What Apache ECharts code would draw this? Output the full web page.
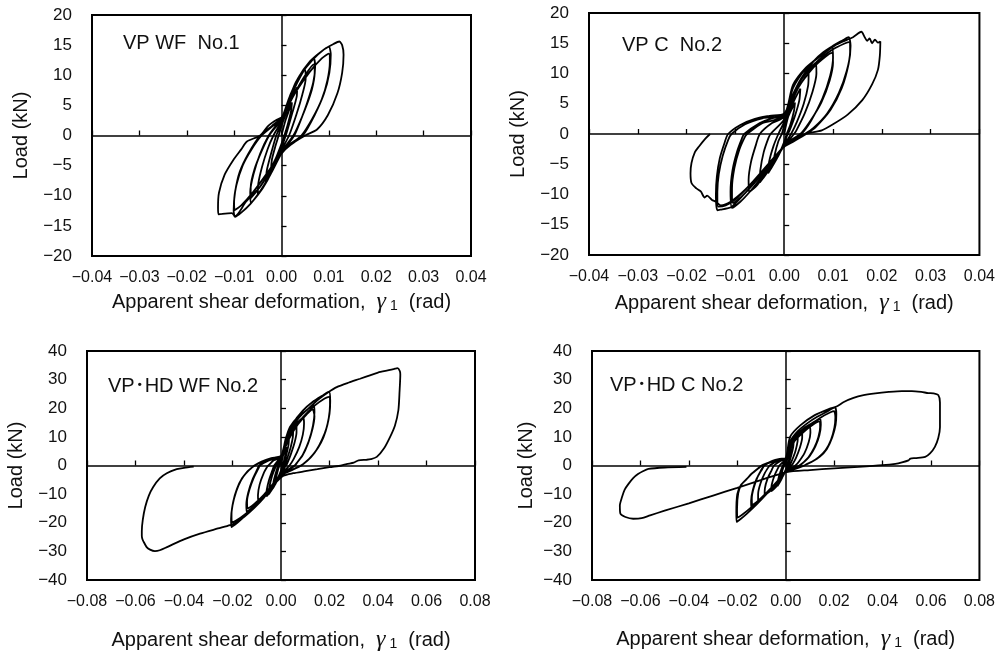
<!DOCTYPE html>
<html>
<head>
<meta charset="utf-8">
<script src="https://cdn.jsdelivr.net/npm/echarts@6/dist/echarts.min.js"></script>
<style>
  html, body { margin: 0; padding: 0; background: #fff; }
  #main { width: 998px; height: 654px; }
</style>
</head>
<body>
<div id="main"></div>
<script>
// panel titles
const titles = ["VP WF  No.1", "VP C  No.2", "VP\uFF65HD WF No.2", "VP\uFF65HD C No.2"];

// axis ranges / ticks
const xTicks1 = [-0.04, 0.04, 0.01];
const yTicks1 = [-20, 20, 5];
const xTicks2 = [-0.08, 0.08, 0.02];
const yTicks2 = [-40, 40, 10];

// VP WF No.1  [shear deformation (rad), load (kN)]
const wf1 = [
  [0,0],[0.0008,2.4],[0.0016,4.2],[0.0022,5.5],[0.0020,4.0],[0.0013,1.8],[0.0006,0],[0,-1.4],[-0.0010,-3.4],[-0.0022,-5.4],[-0.0020,-3.9],[-0.0013,-1.8],[-0.0006,0],[0,1.6],
  [0.0010,3.8],[0.0022,6.2],[0.0033,8.0],[0.0032,6.4],[0.0023,3.8],[0.0011,0.5],[0,-2.0],[-0.0012,-4.2],[-0.0024,-6.2],[-0.0033,-7.6],[-0.0031,-5.8],[-0.0022,-3.0],[-0.0011,0],[0,2.0],
  [0.0012,4.8],[0.0028,7.9],[0.0040,9.8],[0.0050,11.0],[0.0051,9.4],[0.0044,6.8],[0.0032,3.6],[0.0016,0],[0,-2.4],[-0.0015,-5.0],[-0.0030,-7.5],[-0.0042,-9.0],[-0.0050,-9.8],[-0.0049,-8.0],[-0.0041,-5.2],[-0.0029,-2.2],[-0.0017,0],[0,2.4],
  [0.0013,5.4],[0.0030,8.8],[0.0050,11.3],[0.0068,12.8],[0.0071,11.4],[0.0067,8.8],[0.0054,5.4],[0.0038,2.0],[0.0027,0],[0.0010,-1.8],[0,-2.8],[-0.0015,-5.0],[-0.0035,-8.0],[-0.0052,-10.0],[-0.0065,-11.2],[-0.0066,-9.4],[-0.0059,-6.4],[-0.0045,-3.0],[-0.0027,0],[-0.0012,1.6],[0,2.7],
  [0.0025,6.6],[0.0050,10.0],[0.0068,11.8],[0.0070,10.4],[0.0064,7.6],[0.0050,4.4],[0.0034,1.4],[0.0025,0],[0.0008,-1.8],[0,-2.6],[-0.0025,-6.0],[-0.0050,-9.0],[-0.0065,-10.4],[-0.0065,-8.6],[-0.0057,-5.6],[-0.0042,-2.6],[-0.0026,0],[-0.0010,1.6],[0,2.6],
  [0.0015,6.0],[0.0035,9.5],[0.0060,12.3],[0.0085,14.0],[0.0100,14.7],[0.0104,13.4],[0.0101,10.4],[0.0090,7.0],[0.0070,3.4],[0.0045,0],[0.0015,-1.8],[0,-3.0],[-0.0020,-6.0],[-0.0040,-8.8],[-0.0065,-11.3],[-0.0085,-12.8],[-0.0098,-13.5],[-0.0101,-12.4],[-0.0098,-9.4],[-0.0088,-6.0],[-0.0070,-3.0],[-0.0045,0],[-0.0020,1.6],[0,3.0],
  [0.0030,7.2],[0.0060,10.6],[0.0085,12.8],[0.0100,13.6],[0.0102,12.2],[0.0097,9.2],[0.0085,6.0],[0.0065,2.8],[0.0042,0],[0.0015,-1.6],[0,-2.8],[-0.0030,-6.2],[-0.0060,-9.4],[-0.0085,-11.6],[-0.0099,-12.4],[-0.0100,-11.0],[-0.0095,-8.2],[-0.0082,-5.0],[-0.0064,-2.4],[-0.0042,0],[-0.0018,1.6],[0,2.8],
  [0.0020,7.0],[0.0040,10.0],[0.0065,12.5],[0.0090,14.3],[0.0110,15.2],[0.0122,15.6],[0.0128,15.0],[0.0131,13.4],[0.0128,10.4],[0.0118,7.0],[0.0098,3.4],[0.0075,1.0],[0.0050,0],[0.0020,-1.5],[0,-3.0],[-0.0020,-5.5],[-0.0045,-8.5],[-0.0075,-11.0],[-0.0098,-13.4],[-0.0105,-12.9],[-0.0125,-13.0],[-0.0133,-13.1],[-0.0134,-12.0],[-0.0132,-9.5],[-0.0120,-6.5],[-0.0102,-4.1],[-0.0085,-2.3],[-0.0073,-1.0],[-0.0045,0],[-0.0028,1.6],[-0.0010,2.6],[0.0005,3.2]
];

// VP C No.2
const c2 = [
  [0,0],[0.0008,2.8],[0.0016,4.2],[0.0022,5.2],[0.0020,3.8],[0.0012,1.4],[0.0005,0],[0,-1.3],[-0.0010,-3.2],[-0.0022,-5.0],[-0.0020,-3.6],[-0.0012,-1.2],[-0.0005,0],[0,1.4],
  [0.0010,3.6],[0.0022,5.8],[0.0033,7.5],[0.0031,5.6],[0.0022,3.0],[0.0010,0.4],[0.0007,0],[0,-1.6],[-0.0012,-3.6],[-0.0024,-5.3],[-0.0033,-6.5],[-0.0031,-4.6],[-0.0022,-2.0],[-0.0012,0],[0,2.0],
  [0.0012,4.6],[0.0028,7.6],[0.0040,9.0],[0.0050,10.0],[0.0049,8.0],[0.0040,5.0],[0.0026,2.0],[0.0014,0],[0,-1.8],[-0.0015,-3.8],[-0.0030,-5.8],[-0.0042,-7.2],[-0.0050,-8.0],[-0.0049,-6.0],[-0.0042,-3.0],[-0.0032,-0.6],[-0.0028,0],[0,2.4],
  [0.0012,5.0],[0.0030,8.4],[0.0048,10.5],[0.0065,11.8],[0.0066,10.0],[0.0058,7.0],[0.0042,3.4],[0.0025,0.6],[0.0020,0],[0.0008,-1.2],[0,-2.0],[-0.0015,-3.8],[-0.0035,-6.2],[-0.0055,-8.4],[-0.0072,-9.6],[-0.0073,-7.6],[-0.0068,-4.6],[-0.0058,-1.8],[-0.0050,0],[-0.0025,1.8],[0,2.8],
  [0.0015,6.0],[0.0035,9.2],[0.0060,12.0],[0.0080,13.5],[0.0098,14.4],[0.0100,12.6],[0.0094,9.6],[0.0078,5.8],[0.0055,2.2],[0.0035,0],[0.0012,-1.2],[0,-2.0],[-0.0020,-4.2],[-0.0045,-7.0],[-0.0070,-9.5],[-0.0090,-11.2],[-0.0107,-12.2],[-0.0110,-9.5],[-0.0106,-6.0],[-0.0097,-3.0],[-0.0087,-0.8],[-0.0082,0],[-0.0050,1.8],[-0.0025,2.6],[0,3.0],
  [0.0030,7.8],[0.0060,11.0],[0.0085,12.8],[0.0098,13.4],[0.0100,11.8],[0.0093,8.8],[0.0076,5.2],[0.0052,2.0],[0.0033,0],[0.0010,-1.2],[0,-1.9],[-0.0030,-5.0],[-0.0060,-8.0],[-0.0088,-10.4],[-0.0105,-11.4],[-0.0107,-9.0],[-0.0102,-5.6],[-0.0092,-2.6],[-0.0080,-0.4],[-0.0076,0],[-0.0045,1.8],[0,2.9],
  [0.0018,7.6],[0.0045,10.9],[0.0073,12.9],[0.0100,14.6],[0.0120,15.5],[0.0132,16.0],[0.0136,14.6],[0.0132,11.6],[0.0118,7.6],[0.0095,4.0],[0.0065,1.2],[0.0045,0],[0.0020,-1.2],[0,-2.1],[-0.0025,-4.4],[-0.0055,-7.4],[-0.0085,-10.2],[-0.0107,-12.0],[-0.0117,-12.3],[-0.0130,-12.5],[-0.0137,-12.6],[-0.0140,-10.0],[-0.0138,-7.0],[-0.0132,-4.0],[-0.0122,-1.4],[-0.0115,0],[-0.0090,1.5],[-0.0060,2.5],[-0.0030,3.0],[0,3.4],
  [0.0030,8.4],[0.0065,11.8],[0.0100,14.0],[0.0125,15.0],[0.0133,15.2],[0.0135,13.6],[0.0128,10.4],[0.0112,6.8],[0.0088,3.4],[0.0060,1.0],[0.0042,0],[0.0018,-1.1],[0,-2.0],[-0.0035,-5.2],[-0.0070,-8.4],[-0.0100,-10.8],[-0.0120,-11.8],[-0.0135,-12.0],[-0.0137,-9.6],[-0.0134,-6.6],[-0.0126,-3.6],[-0.0115,-1.0],[-0.0108,0],[-0.0080,1.6],[-0.0045,2.6],[0,3.2],
  [0.0018,8.1],[0.0045,11.0],[0.0073,12.8],[0.0107,14.8],[0.0141,16.0],[0.0158,16.9],[0.0165,16.0],[0.0170,15.4],[0.0175,15.8],[0.0180,15.0],[0.0186,15.6],[0.0192,15.1],[0.0197,15.3],[0.0196,13.0],[0.0192,10.6],[0.0180,8.2],[0.0160,5.6],[0.0130,3.2],[0.0100,1.6],[0.0077,0.6],[0.0044,0],[0.0020,-1.0],[0,-2.1],[-0.0025,-4.3],[-0.0050,-6.6],[-0.0080,-9.2],[-0.0110,-11.2],[-0.0130,-11.8],[-0.0140,-11.2],[-0.0148,-10.9],[-0.0158,-10.2],[-0.0163,-10.5],[-0.0171,-9.5],[-0.0180,-9.0],[-0.0190,-8.1],[-0.0192,-6.5],[-0.0190,-4.8],[-0.0183,-3.0],[-0.0175,-2.1],[-0.0162,-0.8],[-0.0152,0]
];

// VP・HD WF No.2
const hdwf2 = [
  [0,0],[0.0008,3.2],[0.0016,5.2],[0.0022,6.5],[0.0020,4.6],[0.0012,1.6],[0.0006,0],[0,-1.8],[-0.0010,-3.8],[-0.0022,-6.0],[-0.0020,-4.2],[-0.0012,-1.4],[-0.0006,0],[0,1.8],
  [0.0010,4.6],[0.0022,7.5],[0.0033,9.5],[0.0031,7.2],[0.0022,3.8],[0.0010,0],[0,-2.2],[-0.0012,-4.6],[-0.0024,-6.6],[-0.0033,-8.0],[-0.0031,-5.8],[-0.0022,-2.8],[-0.0012,0],[0,2.4],
  [0.0012,5.8],[0.0028,9.4],[0.0040,11.2],[0.0050,12.5],[0.0049,10.0],[0.0040,6.4],[0.0026,2.6],[0.0015,0],[0,-2.6],[-0.0015,-5.0],[-0.0030,-7.4],[-0.0042,-9.0],[-0.0050,-10.0],[-0.0048,-7.6],[-0.0038,-4.0],[-0.0025,-1.0],[-0.0020,0],[0,2.8],
  [0.0014,6.6],[0.0032,10.2],[0.0050,12.8],[0.0064,14.2],[0.0064,11.6],[0.0056,8.0],[0.0040,3.8],[0.0024,0.4],[0.0020,0],[0.0008,-1.8],[0,-2.9],[-0.0015,-5.0],[-0.0035,-7.8],[-0.0050,-9.8],[-0.0060,-10.8],[-0.0059,-8.6],[-0.0050,-5.2],[-0.0036,-1.8],[-0.0028,0],[-0.0012,1.8],[0,3.0],
  [0.0015,7.2],[0.0035,11.0],[0.0060,14.4],[0.0080,16.0],[0.0092,16.8],[0.0095,14.6],[0.0090,10.8],[0.0075,6.4],[0.0052,2.2],[0.0035,0],[0.0012,-2.0],[0,-3.0],[-0.0020,-5.4],[-0.0045,-8.6],[-0.0070,-11.0],[-0.0094,-12.6],[-0.0095,-10.4],[-0.0088,-6.6],[-0.0072,-2.8],[-0.0055,-0.2],[-0.0052,0],[-0.0030,1.8],[0,3.0],
  [0.0018,8.4],[0.0045,13.2],[0.0075,16.8],[0.0105,19.3],[0.0125,20.6],[0.0135,21.2],[0.0138,18.6],[0.0132,14.0],[0.0115,8.6],[0.0090,3.8],[0.0065,0.8],[0.0058,0],[0.0025,-1.8],[0,-3.2],[-0.0025,-6.0],[-0.0060,-9.8],[-0.0095,-13.0],[-0.0120,-14.8],[-0.0142,-16.1],[-0.0143,-13.6],[-0.0135,-9.4],[-0.0118,-5.0],[-0.0098,-1.4],[-0.0090,0],[-0.0055,1.8],[-0.0025,2.8],[0,3.4],
  [0.0035,9.6],[0.0070,14.4],[0.0105,17.8],[0.0130,19.6],[0.0138,17.2],[0.0130,12.8],[0.0112,7.8],[0.0088,3.4],[0.0062,0.6],[0.0056,0],[0.0022,-1.8],[0,-3.0],[-0.0035,-6.6],[-0.0075,-10.6],[-0.0110,-13.4],[-0.0138,-15.0],[-0.0140,-12.4],[-0.0130,-8.4],[-0.0113,-4.4],[-0.0094,-1.2],[-0.0087,0],[-0.0050,1.8],[0,3.2],
  [0.0020,9.5],[0.0050,14.8],[0.0090,19.2],[0.0130,22.2],[0.0170,24.4],[0.0198,25.8],[0.0203,22.6],[0.0200,18.0],[0.0188,13.2],[0.0170,9.2],[0.0145,5.2],[0.0115,2.2],[0.0090,0.4],[0.0085,0],[0.0040,-1.8],[0,-3.4],[-0.0030,-6.4],[-0.0070,-10.8],[-0.0110,-14.6],[-0.0150,-17.8],[-0.0180,-20.0],[-0.0205,-21.5],[-0.0206,-18.8],[-0.0200,-14.0],[-0.0185,-9.2],[-0.0165,-5.2],[-0.0140,-2.2],[-0.0115,-0.4],[-0.0110,0],[-0.0080,1.4],[-0.0040,2.6],[0,3.4],
  [0.0040,10.8],[0.0090,16.8],[0.0140,21.0],[0.0180,23.4],[0.0198,24.0],[0.0202,21.2],[0.0197,16.6],[0.0184,12.0],[0.0165,8.0],[0.0138,4.4],[0.0108,1.6],[0.0082,0],[0.0038,-1.8],[0,-3.2],[-0.0045,-8.0],[-0.0095,-13.0],[-0.0145,-16.8],[-0.0185,-19.2],[-0.0203,-19.8],[-0.0204,-17.0],[-0.0197,-12.6],[-0.0182,-8.2],[-0.0160,-4.4],[-0.0132,-1.6],[-0.0108,0],[-0.0075,1.4],[-0.0035,2.6],[0,3.2],
  [0.0020,9.5],[0.0037,13.5],[0.0070,17.0],[0.0106,19.3],[0.0150,22.8],[0.0195,25.6],[0.0230,27.4],[0.0280,29.0],[0.0326,30.3],[0.0370,31.6],[0.0410,32.7],[0.0450,33.4],[0.0470,33.8],[0.0480,34.0],[0.0490,33.0],[0.0492,31.8],[0.0489,26.0],[0.0484,19.3],[0.0470,14.0],[0.0450,10.0],[0.0425,6.0],[0.0395,3.0],[0.0370,2.2],[0.0353,2.0],[0.0320,1.8],[0.0300,1.0],[0.0270,0.5],[0.0250,0],[0.0200,-0.6],[0.0150,-1.3],[0.0100,-2.0],[0.0050,-2.7],[0.0010,-3.6],[-0.0030,-6.8],[-0.0070,-11.2],[-0.0110,-14.8],[-0.0150,-17.8],[-0.0190,-20.2],[-0.0210,-20.8],[-0.0260,-22.0],[-0.0334,-23.8],[-0.0400,-25.8],[-0.0470,-28.5],[-0.0500,-29.6],[-0.0520,-29.9],[-0.0540,-29.4],[-0.0554,-28.5],[-0.0568,-26.4],[-0.0572,-25.6],[-0.0574,-24.5],[-0.0574,-23.0],[-0.0570,-19.0],[-0.0560,-14.5],[-0.0545,-10.5],[-0.0527,-7.5],[-0.0500,-4.5],[-0.0471,-2.7],[-0.0430,-1.3],[-0.0400,-0.8],[-0.0360,-0.4]
];

// VP・HD C No.2
const hdc2 = [
  [0,0],[0.0008,2.6],[0.0016,4.6],[0.0022,6.0],[0.0020,4.2],[0.0012,1.4],[0.0006,0],[0,-1.4],[-0.0010,-3.2],[-0.0022,-5.5],[-0.0020,-3.8],[-0.0012,-1.2],[-0.0006,0],[0,1.4],
  [0.0010,3.8],[0.0022,6.6],[0.0033,8.5],[0.0031,6.4],[0.0022,3.2],[0.0010,0],[0,-1.8],[-0.0012,-3.8],[-0.0024,-5.8],[-0.0034,-7.2],[-0.0032,-5.2],[-0.0022,-2.2],[-0.0012,0],[0,1.9],
  [0.0012,4.8],[0.0028,8.2],[0.0040,9.6],[0.0050,10.6],[0.0049,8.4],[0.0040,5.0],[0.0026,1.8],[0.0016,0],[0,-2.0],[-0.0015,-4.2],[-0.0032,-6.6],[-0.0048,-8.2],[-0.0060,-9.0],[-0.0058,-6.8],[-0.0046,-3.4],[-0.0030,-0.6],[-0.0026,0],[0,2.2],
  [0.0014,5.4],[0.0032,8.8],[0.0052,10.9],[0.0068,12.1],[0.0068,9.8],[0.0059,6.4],[0.0042,2.6],[0.0028,0.4],[0.0024,0],[0.0010,-1.2],[0,-2.0],[-0.0020,-4.4],[-0.0045,-7.2],[-0.0068,-9.2],[-0.0087,-10.3],[-0.0086,-8.0],[-0.0075,-4.6],[-0.0058,-1.6],[-0.0048,0],[-0.0022,1.6],[0,2.4],
  [0.0015,6.0],[0.0035,9.2],[0.0060,11.6],[0.0082,12.9],[0.0100,13.6],[0.0102,11.4],[0.0095,8.2],[0.0078,4.4],[0.0055,1.4],[0.0040,0],[0.0015,-1.2],[0,-2.0],[-0.0025,-4.6],[-0.0055,-7.8],[-0.0085,-10.4],[-0.0114,-12.6],[-0.0114,-10.0],[-0.0104,-6.2],[-0.0086,-2.6],[-0.0070,-0.4],[-0.0066,0],[-0.0035,1.6],[0,2.5],
  [0.0018,7.4],[0.0045,10.8],[0.0075,13.0],[0.0105,14.6],[0.0125,15.6],[0.0142,16.4],[0.0145,14.2],[0.0139,10.6],[0.0122,6.6],[0.0098,3.2],[0.0070,0.8],[0.0058,0],[0.0025,-1.3],[0,-2.1],[-0.0030,-5.0],[-0.0065,-8.6],[-0.0100,-11.8],[-0.0125,-13.8],[-0.0142,-15.0],[-0.0143,-12.4],[-0.0136,-8.6],[-0.0120,-4.6],[-0.0100,-1.4],[-0.0090,0],[-0.0055,1.6],[-0.0025,2.3],[0,2.6],
  [0.0035,8.4],[0.0075,11.8],[0.0115,14.4],[0.0138,15.4],[0.0142,13.4],[0.0135,10.0],[0.0118,6.2],[0.0094,2.9],[0.0068,0.7],[0.0056,0],[0.0022,-1.2],[0,-2.0],[-0.0040,-6.0],[-0.0080,-9.6],[-0.0115,-12.4],[-0.0138,-13.8],[-0.0140,-11.4],[-0.0132,-7.8],[-0.0116,-4.0],[-0.0097,-1.2],[-0.0088,0],[-0.0052,1.5],[0,2.5],
  [0.0020,8.6],[0.0050,12.0],[0.0090,14.8],[0.0130,17.0],[0.0170,18.8],[0.0203,20.3],[0.0209,18.0],[0.0206,14.2],[0.0192,9.8],[0.0170,5.8],[0.0140,3.0],[0.0110,1.4],[0.0085,0.4],[0.0078,0],[0.0040,-1.2],[0,-2.2],[-0.0035,-5.6],[-0.0080,-10.0],[-0.0120,-13.6],[-0.0160,-16.8],[-0.0185,-18.6],[-0.0203,-19.7],[-0.0204,-16.4],[-0.0200,-10.0],[-0.0185,-6.8],[-0.0166,-5.2],[-0.0140,-2.8],[-0.0110,-0.7],[-0.0100,0],[-0.0063,1.2],[-0.0030,2.1],[0,2.6],
  [0.0045,9.8],[0.0095,13.8],[0.0145,16.8],[0.0185,18.6],[0.0200,19.0],[0.0205,16.8],[0.0201,13.2],[0.0187,9.0],[0.0165,5.4],[0.0135,2.8],[0.0106,1.2],[0.0076,0],[0.0038,-1.1],[0,-2.1],[-0.0045,-6.6],[-0.0095,-11.0],[-0.0145,-14.8],[-0.0180,-17.2],[-0.0200,-18.2],[-0.0201,-15.2],[-0.0196,-9.6],[-0.0182,-6.6],[-0.0162,-4.8],[-0.0136,-2.6],[-0.0107,-0.6],[-0.0098,0],[-0.0060,1.2],[-0.0028,2.0],[0,2.5],
  [0.0018,10.0],[0.0060,14.0],[0.0120,17.6],[0.0180,19.8],[0.0210,20.6],[0.0240,22.2],[0.0280,23.6],[0.0317,24.5],[0.0370,25.2],[0.0426,25.7],[0.0480,26.0],[0.0521,26.0],[0.0560,25.7],[0.0589,25.3],[0.0610,25.2],[0.0630,24.6],[0.0637,22.0],[0.0637,13.4],[0.0630,9.6],[0.0616,6.5],[0.0596,4.2],[0.0576,3.0],[0.0535,2.6],[0.0515,2.4],[0.0507,1.8],[0.0480,1.1],[0.0453,0.6],[0.0400,0.1],[0.0300,-0.5],[0.0200,-1.0],[0.0100,-1.6],[0.0004,-2.3],[-0.0100,-5.0],[-0.0200,-7.8],[-0.0300,-10.5],[-0.0400,-13.2],[-0.0500,-15.8],[-0.0560,-17.4],[-0.0595,-18.4],[-0.0630,-18.6],[-0.0662,-18.0],[-0.0683,-16.8],[-0.0685,-14.0],[-0.0676,-11.0],[-0.0665,-8.4],[-0.0650,-6.5],[-0.0630,-4.4],[-0.0610,-3.0],[-0.0590,-2.0],[-0.0567,-1.2],[-0.0500,-0.7],[-0.0410,-0.5]
];

const panels = [
  { data: wf1,   x: xTicks1, y: yTicks1, grid: { left: 92,  top: 15,  width: 379, height: 241 }, xGap: 34, yGap: 61, title: [118, 28] },
  { data: c2,    x: xTicks1, y: yTicks1, grid: { left: 589, top: 13,  width: 391, height: 242 }, xGap: 36, yGap: 61, title: [617, 30] },
  { data: hdwf2, x: xTicks2, y: yTicks2, grid: { left: 87,  top: 351, width: 388, height: 229 }, xGap: 48, yGap: 61, title: [103, 371] },
  { data: hdc2,  x: xTicks2, y: yTicks2, grid: { left: 592, top: 351, width: 392, height: 229 }, xGap: 47, yGap: 56, title: [605, 370] }
];

const FONT = "'Liberation Sans', Arial, sans-serif";
const minus = s => s.replace('-', '\u2212');

const option = {
  animation: false,
  backgroundColor: '#fff',
  title: panels.map((p, i) => ({
    text: titles[i],
    left: p.title[0],
    top: p.title[1],
    textStyle: { fontFamily: FONT + ", 'Noto Sans CJK JP'", fontSize: 20, fontWeight: 'normal', color: '#111' }
  })),
  grid: panels.map(p => Object.assign({ show: true, borderColor: '#000', borderWidth: 2, containLabel: false }, p.grid)),
  xAxis: panels.map((p, i) => ({
    type: 'value',
    gridIndex: i,
    min: p.x[0], max: p.x[1], interval: p.x[2],
    axisLine: { show: false },
    axisTick: { show: true, inside: true, length: 5, lineStyle: { color: '#000', width: 1.3 } },
    splitLine: { show: false },
    axisLabel: {
      color: '#111', fontFamily: FONT, fontSize: 16, margin: 14,
      formatter: v => minus(v.toFixed(2))
    },
    name: '{a|Apparent shear deformation,  }{g|\u03B3}{s| 1}{a|  (rad)}',
    nameLocation: 'middle',
    nameGap: p.xGap,
    nameTextStyle: {
      rich: {
        a: { fontFamily: FONT, fontSize: 20, color: '#111' },
        g: { fontFamily: "'Liberation Serif', serif", fontStyle: 'italic', fontSize: 24, color: '#111' },
        s: { fontFamily: FONT, fontSize: 14, color: '#111', padding: [9, 0, 0, 0] }
      }
    }
  })),
  yAxis: panels.map((p, i) => ({
    type: 'value',
    gridIndex: i,
    min: p.y[0], max: p.y[1], interval: p.y[2],
    axisLine: { show: false },
    axisTick: { show: true, inside: true, length: 5, lineStyle: { color: '#000', width: 1.3 } },
    splitLine: { show: false },
    axisLabel: {
      color: '#111', fontFamily: FONT, fontSize: 17, margin: 20,
      formatter: v => minus(String(v))
    },
    name: 'Load (kN)',
    nameLocation: 'middle',
    nameGap: p.yGap,
    nameTextStyle: { fontFamily: FONT, fontSize: 20, color: '#111' }
  })),
  series: panels.map((p, i) => ({
    type: 'line',
    xAxisIndex: i,
    yAxisIndex: i,
    data: p.data,
    showSymbol: false,
    smooth: 0.25,
    lineStyle: { color: '#000', width: 1.8 },
    markLine: {
      silent: true,
      symbol: 'none',
      label: { show: false },
      lineStyle: { color: '#000', width: 1.5, type: 'solid' },
      data: [{ xAxis: 0 }, { yAxis: 0 }]
    }
  }))
};

const chart = echarts.init(document.getElementById('main'));
chart.setOption(option);
</script>
</body>
</html>
